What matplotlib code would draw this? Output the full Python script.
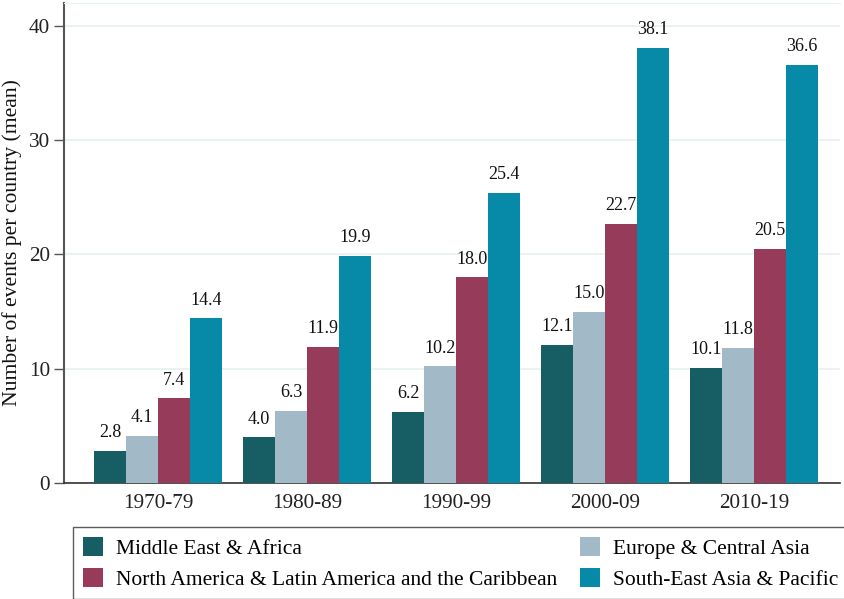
import matplotlib
matplotlib.use('Agg')
import matplotlib.pyplot as plt
import numpy as np

plt.rcParams['font.family'] = ['Liberation Serif', 'DejaVu Serif']

decades = ['1970-79', '1980-89', '1990-99', '2000-09', '2010-19']
regions = ['Middle East & Africa', 'Europe & Central Asia',
           'North America & Latin America and the Caribbean',
           'South-East Asia & Pacific']
mea = [2.8, 4.0, 6.2, 12.1, 10.1]
eca = [4.1, 6.3, 10.2, 15.0, 11.8]
nala = [7.4, 11.9, 18.0, 22.7, 20.5]
seap = [14.4, 19.9, 25.4, 38.1, 36.6]
colors = ['#165e63', '#a2b9c7', '#963c5a', '#078aa8']

fig = plt.figure(figsize=(8.45, 5.99), dpi=100)
ax = fig.add_axes([64/845, 1 - 483/599, (840 - 64)/845, (483 - 3)/599])

x = np.arange(len(decades))
w = 0.215
series = [mea, eca, nala, seap]
handles = []
for i, (vals, c) in enumerate(zip(series, colors)):
    bars = ax.bar(x + (i - 1.5) * w, vals, w, color=c, label=regions[i], zorder=3)
    handles.append(bars)
    for b, v in zip(bars, vals):
        ax.annotate(f'{v:.1f}', (b.get_x() + b.get_width()/2, v),
                    xytext=(0, 7), textcoords='offset points',
                    ha='center', va='bottom', fontsize=13, color='#111')

ax.set_xlim(-0.631, 4.577)
ax.set_ylim(0, 42)
ax.set_yticks([0, 10, 20, 30, 40])
ax.set_xticks(x)
ax.set_xticklabels(decades)
ax.tick_params(axis='x', length=0, labelsize=15.3, pad=8, colors='#222')
ax.tick_params(axis='y', length=7, width=1, labelsize=15.3, pad=3,
               colors='#222', color='#555')
ax.yaxis.grid(True, color='#e6f0f1', lw=1.2, zorder=0)
ax.set_axisbelow(True)
ax.spines['right'].set_visible(False)
ax.spines['top'].set_color('#e6f0f1')
ax.spines['left'].set_color('#555')
ax.spines['left'].set_linewidth(1.5)
ax.spines['bottom'].set_color('#333')
ax.spines['bottom'].set_linewidth(1.2)
ax.set_ylabel('Number of events per country (mean)', fontsize=15.6,
              color='#111', labelpad=5)

# legend order: column 1 ME, NA; column 2 EU, SE
order = [0, 2, 1, 3]
leg = fig.legend([handles[k] for k in order], [regions[k] for k in order],
                 loc='upper left', bbox_to_anchor=(73/845, 1 - 527/599),
                 ncol=2, fontsize=15.5, frameon=True, fancybox=False,
                 edgecolor='#333', handlelength=0.95, handleheight=1.0,
                 handletextpad=0.6, columnspacing=1.05, borderpad=0.45,
                 labelspacing=0.42, borderaxespad=0)
leg.get_frame().set_linewidth(1.0)

plt.savefig('out.png', dpi=100, facecolor='white')
plt.close()
